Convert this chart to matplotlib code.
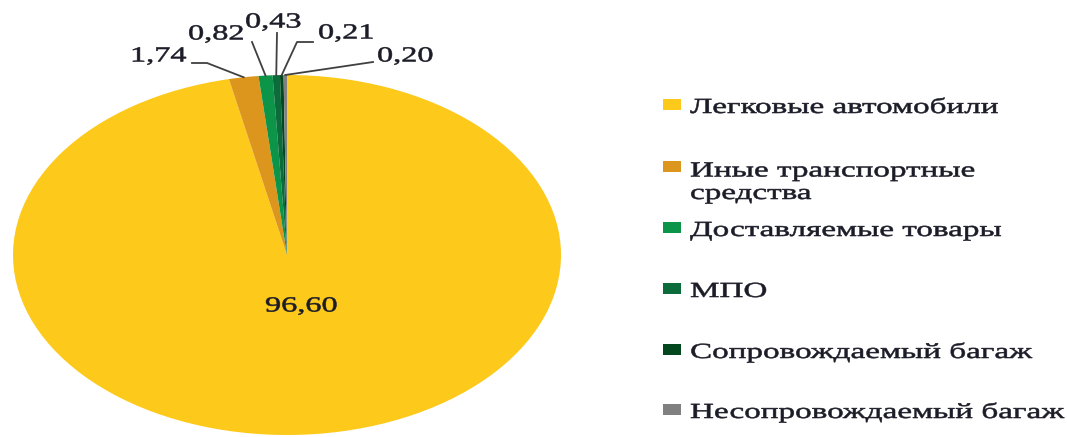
import numpy as np
import matplotlib
matplotlib.use('Agg')
import matplotlib.pyplot as plt
from matplotlib.patches import Rectangle
from matplotlib.lines import Line2D
from matplotlib.transforms import Affine2D
from matplotlib.patheffects import AbstractPathEffect

W, H = 1067, 437

categories = ['Легковые автомобили', 'Иные транспортные\nсредства', 'Доставляемые товары',
              'МПО', 'Сопровождаемый багаж', 'Несопровождаемый багаж']
shares = [96.60, 1.74, 0.82, 0.43, 0.21, 0.20]
colors = ['#FDC91B', '#DC961E', '#0C9448', '#0B6B3A', '#03471F', '#808080']

# value labels: left edge / middle in pixels, plus the bend points of the leader line
label_pos = [(265, 307), (130, 57), (188, 35), (245, 23), (318, 34), (377, 57)]
leader = [None, [(192, 63), (207, 63)], [(252, 42)], [(277, 33)], [(313, 42), (297, 42)], [(373, 62)]]
# legend baselines (first line) in pixels
legend_base = [113, 175, 236, 297, 358, 418]
LINE_GAP = 24

TEXT_COLOR = '#1C1C28'
FONT = 'Liberation Serif'


class Stretch(AbstractPathEffect):
    '''Widen glyphs horizontally around the start of each line, with a thin outline'''
    def __init__(self, sx, stroke=0.4):
        super().__init__()
        self.sx = sx
        self.stroke = stroke

    def draw_path(self, renderer, gc, tpath, affine, rgbFace=None):
        gc0 = renderer.new_gc()
        gc0.copy_properties(gc)
        gc0.set_linewidth(self.stroke)
        gc0.set_foreground(rgbFace)
        renderer.draw_path(gc0, tpath, Affine2D().scale(self.sx, 1) + affine, rgbFace)
        gc0.restore()


fig = plt.figure(figsize=(W / 100, H / 100), dpi=100)
# pixel coordinates, origin top-left
pix = Affine2D().scale(1 / W, -1 / H).translate(0, 1) + fig.transFigure

ax = fig.add_axes([13 / W, 2 / H, 548 / W, 360 / H])
wedges, _ = ax.pie(shares, colors=colors, startangle=90, counterclock=False,
                   wedgeprops=dict(linewidth=0))
ax.set_aspect('auto')
ax.set_xlim(-1, 1)
ax.set_ylim(-1, 1)

to_pix = ax.transData + pix.inverted()
for w, v, pos, bend in zip(wedges, shares, label_pos, leader):
    fig.text(pos[0], pos[1], f'{v:.2f}'.replace('.', ','), transform=pix,
             ha='left', va='center', fontsize=15.5, family=FONT, color=TEXT_COLOR,
             path_effects=[Stretch(1.5)])
    if bend is None:
        continue
    mid = np.deg2rad((w.theta1 + w.theta2) / 2)
    anchor = to_pix.transform((np.cos(mid), np.sin(mid)))
    pts = np.array(bend + [tuple(anchor)])
    fig.add_artist(Line2D(pts[:, 0], pts[:, 1], transform=pix, color='#404040', lw=1.3))

for name, col, base in zip(categories, colors, legend_base):
    fig.add_artist(Rectangle((663, base - 14), 18, 11, transform=pix, color=col, lw=0))
    # va='baseline' aligns the last line, so shift multi-line labels down
    last = base + LINE_GAP * name.count('\n')
    fig.text(690, last, name, transform=pix, ha='left', va='baseline',
             fontsize=15.5, family=FONT, color=TEXT_COLOR, linespacing=1.25,
             path_effects=[Stretch(1.54)])

fig.savefig('out.png', dpi=100)
